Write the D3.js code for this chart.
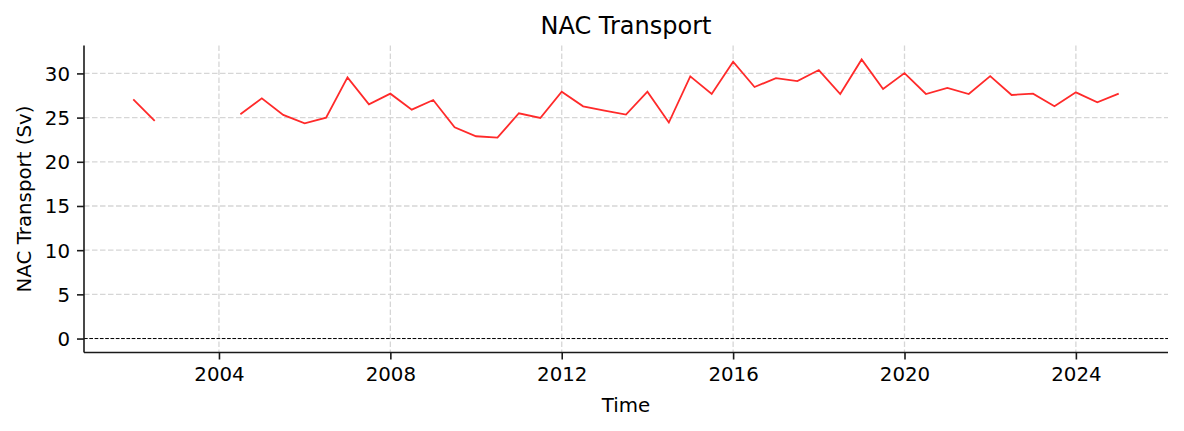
<!DOCTYPE html>
<html>
<head>
<meta charset="utf-8">
<script src="https://cdn.jsdelivr.net/npm/d3@7"></script>
<style>
  html, body { margin: 0; padding: 0; background: #fff; }
  svg { display: block; font-family: "DejaVu Sans", sans-serif; }
</style>
</head>
<body>
<svg id="chart" width="1184" height="431"></svg>
<script>
// ---- data ----
const years = [2002.0, 2002.5, 2003.0, 2003.5, 2004.0, 2004.5, 2005.0, 2005.5, 2006.0, 2006.5,
  2007.0, 2007.5, 2008.0, 2008.5, 2009.0, 2009.5, 2010.0, 2010.5, 2011.0, 2011.5,
  2012.0, 2012.5, 2013.0, 2013.5, 2014.0, 2014.5, 2015.0, 2015.5, 2016.0, 2016.5,
  2017.0, 2017.5, 2018.0, 2018.5, 2019.0, 2019.5, 2020.0, 2020.5, 2021.0, 2021.5,
  2022.0, 2022.5, 2023.0, 2023.5, 2024.0, 2024.5, 2025.0];
const transport = [27.07, 24.62, null, null, null, 25.38, 27.18, 25.30, 24.36, 25.00,
  29.55, 26.50, 27.71, 25.90, 26.99, 23.91, 22.89, 22.74, 25.49, 24.96,
  27.93, 26.28, 25.80, 25.34, 27.93, 24.44, 29.66, 27.67, 31.32, 28.46,
  29.47, 29.14, 30.38, 27.67, 31.58, 28.23, 30.04, 27.67, 28.35, 27.67,
  29.70, 27.56, 27.71, 26.28, 27.86, 26.73, 27.71];
const xTickValues = [2004, 2008, 2012, 2016, 2020, 2024];
const yTickValues = [0, 5, 10, 15, 20, 25, 30];
const titleText = "NAC Transport";
const xLabelText = "Time";
const yLabelText = "NAC Transport (Sv)";

// ---- layout ----
const svg = d3.select("#chart");
const L = 84, R = 1168, T = 45.5, B = 352.5;
const FS = 19.8;

const xMin = d3.min(years), xMax = d3.max(years);
const xPad = (xMax - xMin) * 0.05;
const x = d3.scaleLinear().domain([xMin - xPad, xMax + xPad]).range([L, R]);

const yMax = d3.max(transport), yMinV = 0;
const yPad = (yMax - yMinV) * 0.05;
const y = d3.scaleLinear().domain([yMinV - yPad, yMax + yPad]).range([B, T]);

const data = years.map((yr, i) => ({ yr, v: transport[i] }));

// grid
const grid = svg.append("g");
grid.selectAll("line.gx").data(xTickValues).join("line")
  .attr("x1", d => x(d)).attr("x2", d => x(d))
  .attr("y1", T).attr("y2", B)
  .attr("stroke", "#d6d6d6").attr("stroke-width", 1.3)
  .attr("stroke-dasharray", "5.5,2.5");
grid.selectAll("line.gy").data(yTickValues.filter(d => d !== 0)).join("line")
  .attr("x1", L).attr("x2", R)
  .attr("y1", d => y(d)).attr("y2", d => y(d))
  .attr("stroke", "#d6d6d6").attr("stroke-width", 1.3)
  .attr("stroke-dasharray", "5.5,2.5");

// zero line
svg.append("line")
  .attr("x1", L).attr("x2", R)
  .attr("y1", y(0)).attr("y2", y(0))
  .attr("stroke", "#000").attr("stroke-width", 1)
  .attr("stroke-dasharray", "3.7,1.6");

// series line
const line = d3.line()
  .defined(d => d.v !== null)
  .x(d => x(d.yr)).y(d => y(d.v));
svg.append("path")
  .datum(data)
  .attr("d", line)
  .attr("fill", "none")
  .attr("stroke", "#ff2a2a")
  .attr("stroke-width", 1.8)
  .attr("stroke-linejoin", "miter");

// axes
const xAxis = d3.axisBottom(x).tickValues(xTickValues).tickFormat(d3.format("d"))
  .tickSizeInner(7).tickSizeOuter(0).tickPadding(7);
const gx = svg.append("g").attr("transform", `translate(0,${B})`).call(xAxis);
gx.select(".domain").attr("d", `M${L},0H${R}`);

const yAxis = d3.axisLeft(y).tickValues(yTickValues).tickFormat(d3.format("d"))
  .tickSizeInner(7).tickSizeOuter(0).tickPadding(7);
const gy = svg.append("g").attr("transform", `translate(${L},0)`).call(yAxis);
gy.select(".domain").attr("d", `M0,${T}V${B}`);

[gx, gy].forEach(g => {
  g.selectAll(".domain").attr("stroke", "#1a1a1a").attr("stroke-width", 1.6);
  g.selectAll(".tick line").attr("stroke", "#1a1a1a").attr("stroke-width", 1.6);
  g.selectAll(".tick text").attr("fill", "#000").attr("font-size", FS)
    .attr("font-family", "DejaVu Sans, sans-serif");
});
gy.selectAll(".tick text").attr("dy", "0.35em");

// labels
svg.append("text").attr("x", (L + R) / 2).attr("y", 34)
  .attr("text-anchor", "middle").attr("font-size", 24).attr("fill", "#000")
  .text(titleText);
svg.append("text").attr("x", (L + R) / 2).attr("y", 412)
  .attr("text-anchor", "middle").attr("font-size", FS).attr("fill", "#000")
  .text(xLabelText);
svg.append("text")
  .attr("transform", `translate(31,${(T + B) / 2}) rotate(-90)`)
  .attr("text-anchor", "middle").attr("font-size", FS).attr("fill", "#000")
  .text(yLabelText);
</script>
</body>
</html>
